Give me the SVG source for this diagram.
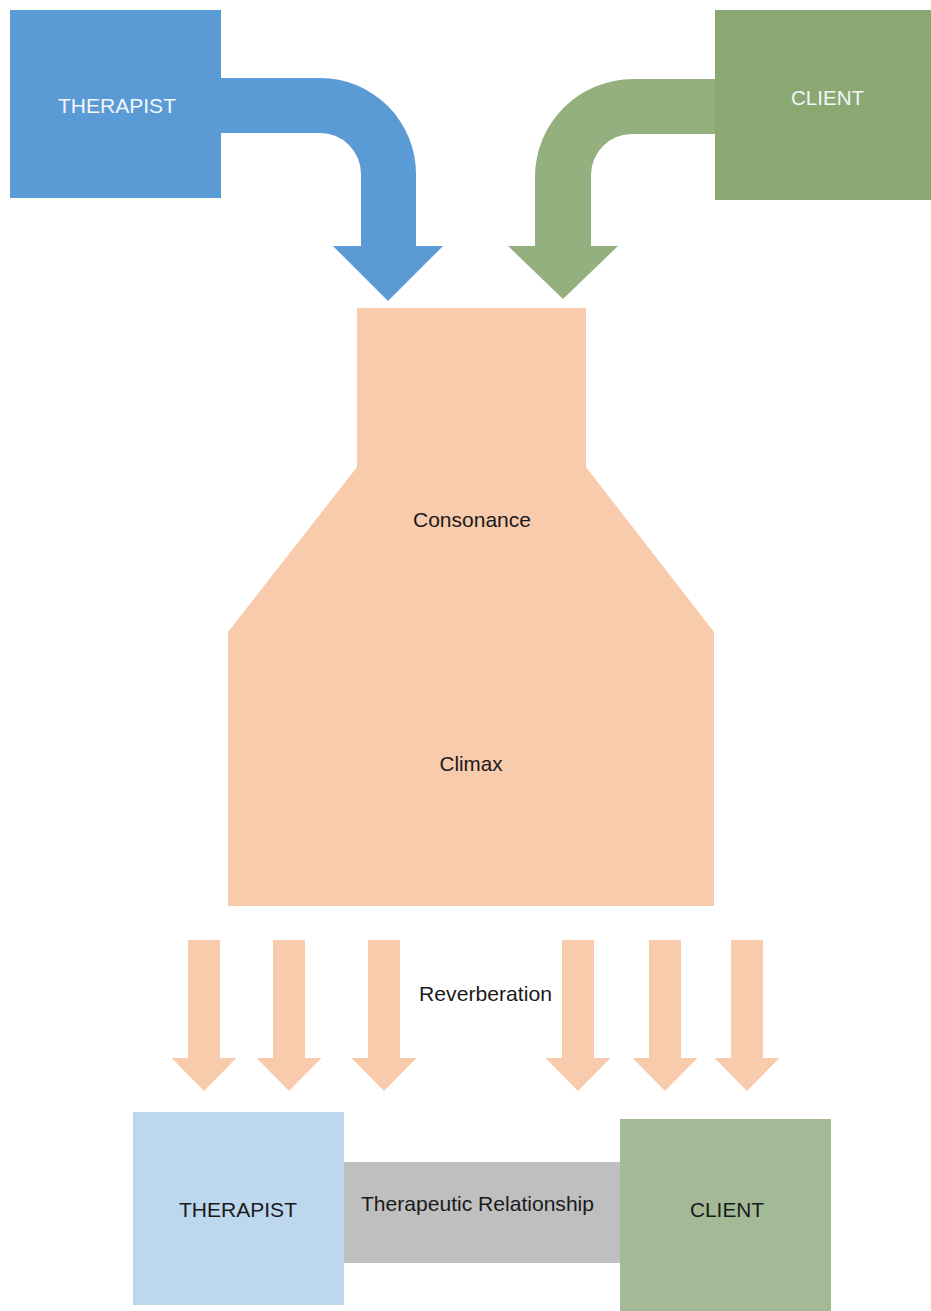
<svg xmlns="http://www.w3.org/2000/svg" width="931" height="1311" viewBox="0 0 931 1311">
  <style>
    .lbl { font-family: "Liberation Sans", Arial, sans-serif; font-size: 21px; text-anchor: middle; fill: #1a1a1a; }
    .lblw { font-family: "Liberation Sans", Arial, sans-serif; font-size: 21px; text-anchor: middle; fill: #f4f6fa; }
    .peach { fill: #f8cbad; }
  </style>
  <defs>
    <path id="smallArrow" d="M-16,0 H16 V118 H32.5 L0,151 L-32.5,118 H-16 Z"/>
  </defs>
  <rect width="931" height="1311" fill="#ffffff"/>

  <g id="connectors">
    <path id="arrow-therapist" fill="#5b9bd5" d="M221,78 H320 A96,96 0 0 1 416,174 V246 H443 L388,301 L333,246 H361 V174 A41,41 0 0 0 320,133 H221 Z"/>
    <path id="arrow-client" fill="#93b07e" d="M715,79 H633 A98,98 0 0 0 535,177 V246 H508 L563,299 L618,246 H591 V175 A41,41 0 0 1 632,134 H715 Z"/>
    <g id="reverberation-arrows" class="peach">
      <use href="#smallArrow" x="204" y="940"/>
      <use href="#smallArrow" x="289" y="940"/>
      <use href="#smallArrow" x="384" y="940"/>
      <use href="#smallArrow" x="578" y="940"/>
      <use href="#smallArrow" x="665" y="940"/>
      <use href="#smallArrow" x="747" y="940"/>
    </g>
  </g>

  <g id="node-therapist-top">
    <rect x="10" y="10" width="211" height="188" fill="#5b9bd5"/>
    <text class="lblw" x="117" y="113" textLength="118" lengthAdjust="spacingAndGlyphs">THERAPIST</text>
  </g>

  <g id="node-client-top">
    <rect x="715" y="10" width="216" height="190" fill="#8aa872"/>
    <text class="lblw" x="827.5" y="105" textLength="73" lengthAdjust="spacingAndGlyphs">CLIENT</text>
  </g>

  <g id="node-consonance">
    <path class="peach" d="M357,308 H586 V467 L714,632 V906 H228 V632 L357,467 Z"/>
    <text class="lbl" x="472" y="527" textLength="118" lengthAdjust="spacingAndGlyphs">Consonance</text>
    <text class="lbl" x="471" y="771" textLength="63" lengthAdjust="spacingAndGlyphs">Climax</text>
  </g>

  <g id="label-reverberation">
    <text class="lbl" x="485.5" y="1001" textLength="133" lengthAdjust="spacingAndGlyphs">Reverberation</text>
  </g>

  <g id="node-relationship">
    <rect x="344" y="1162" width="277" height="101" fill="#bfbfbf"/>
    <text class="lbl" x="477.5" y="1211" textLength="233" lengthAdjust="spacingAndGlyphs">Therapeutic Relationship</text>
  </g>

  <g id="node-therapist-bottom">
    <rect x="133" y="1112" width="211" height="193" fill="#bdd7ee"/>
    <text class="lbl" x="238" y="1217" textLength="118" lengthAdjust="spacingAndGlyphs">THERAPIST</text>
  </g>

  <g id="node-client-bottom">
    <rect x="620" y="1119" width="211" height="192" fill="#a4b996"/>
    <text class="lbl" x="727" y="1217" textLength="74" lengthAdjust="spacingAndGlyphs">CLIENT</text>
  </g>
</svg>
